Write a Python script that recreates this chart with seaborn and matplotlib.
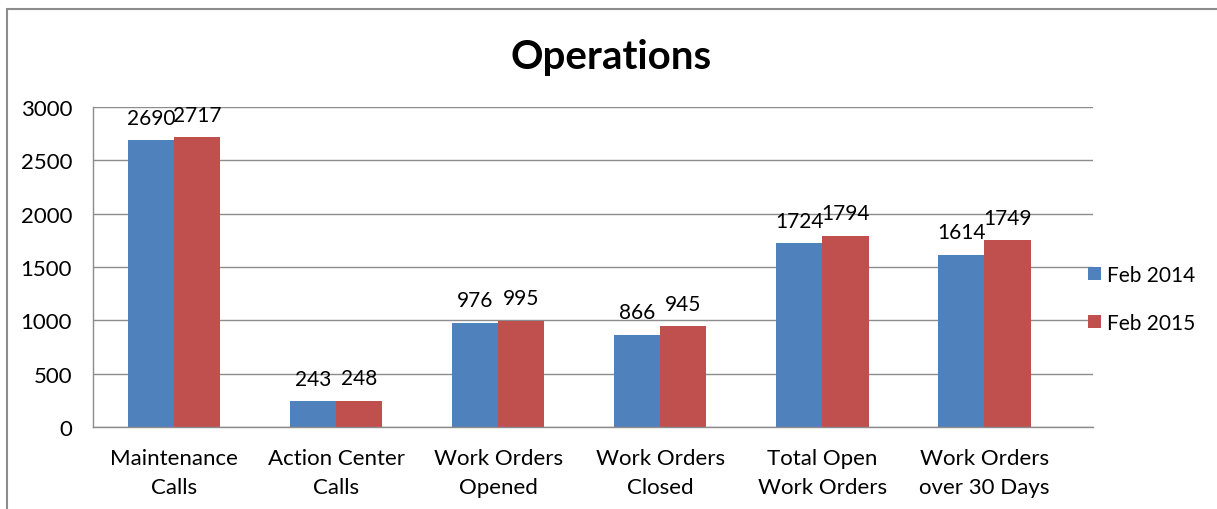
import pandas as pd
import matplotlib.pyplot as plt
import seaborn as sns
from matplotlib.patches import Rectangle

categories = [
    "Maintenance\nCalls",
    "Action Center\nCalls",
    "Work Orders\nOpened",
    "Work Orders\nClosed",
    "Total Open\nWork Orders",
    "Work Orders\nover 30 Days",
]
series_names = ["Feb 2014", "Feb 2015"]
feb_2014 = [2690, 243, 976, 866, 1724, 1614]
feb_2015 = [2717, 248, 995, 945, 1794, 1749]
y_ticks = [0, 500, 1000, 1500, 2000, 2500, 3000]

# long-form table for seaborn
df = pd.DataFrame({
    "category": categories * 2,
    "series": [series_names[0]] * len(categories) + [series_names[1]] * len(categories),
    "value": feb_2014 + feb_2015,
})

sns.set_theme(style="white")
plt.rcParams["font.family"] = ["Lato", "DejaVu Sans"]
plt.rcParams["text.color"] = "black"
plt.rcParams["xtick.color"] = "black"
plt.rcParams["ytick.color"] = "black"

fig = plt.figure(figsize=(12.17, 5.10), dpi=100)
ax = fig.add_axes([0.0764, 0.1608, 0.8217, 0.6275])

palette = {"Feb 2014": "#4F81BD", "Feb 2015": "#C0504D"}
sns.barplot(
    data=df, x="category", y="value", hue="series",
    palette=palette, width=0.57, saturation=1, ax=ax,
    edgecolor="none", linewidth=0,
)

# value labels above each bar
for container in ax.containers:
    ax.bar_label(container, fmt="%d", padding=9, fontsize=15, color="black")

ax.set_ylim(0, 3000)
ax.set_xlim(-0.5, len(categories) - 0.33)
ax.set_yticks(y_ticks)
ax.set_yticklabels([str(t) for t in y_ticks], fontsize=16)
ax.tick_params(axis="x", labelsize=16, pad=15, length=0)
ax.tick_params(axis="y", pad=15, length=0)
for lbl in ax.get_xticklabels():
    lbl.set_linespacing(1.55)
ax.set_xlabel("")
ax.set_ylabel("")
ax.yaxis.grid(True, color="#8C8C8C", linewidth=1)
ax.set_axisbelow(True)
for side in ["top", "right"]:
    ax.spines[side].set_visible(False)
for side in ["left", "bottom"]:
    ax.spines[side].set_color("#8C8C8C")
    ax.spines[side].set_linewidth(1)

# legend on the right
handles, labels = ax.get_legend_handles_labels()
ax.legend(
    handles, labels, loc="center left", bbox_to_anchor=(0.976, 0.40),
    frameon=False, fontsize=15, handlelength=0.62, handleheight=0.62,
    handletextpad=0.3, labelspacing=1.35,
)

fig.text(0.502, 0.888, "Operations", ha="center", va="center",
         fontsize=29, fontweight="bold", color="black")

# chart frame
fig.patches.append(Rectangle((7 / 1217, -0.05), 1.1, 1 - 10 / 510 + 0.05,
                             transform=fig.transFigure, fill=False,
                             edgecolor="#8C8C8C", linewidth=1.5))

fig.savefig("out.png", dpi=100)
